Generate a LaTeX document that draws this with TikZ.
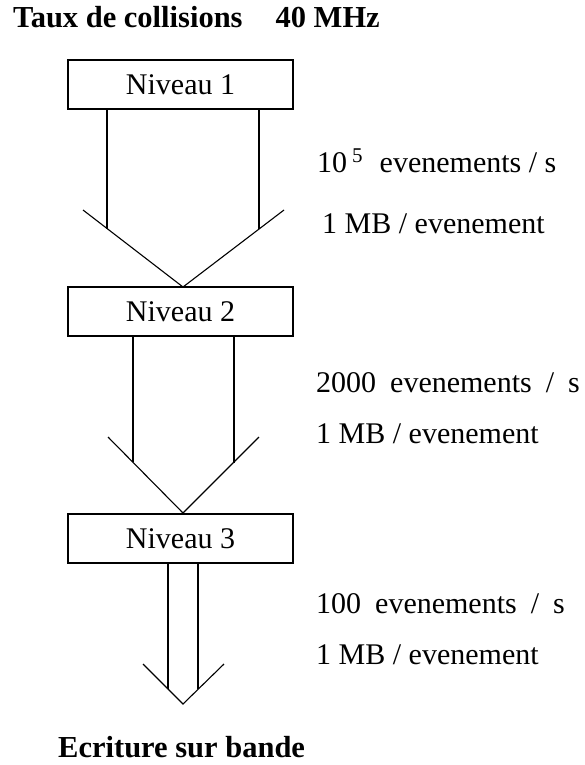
\documentclass[tikz,border=0pt]{standalone}
\usepackage{fontspec}
\setmainfont{Liberation Serif}
\begin{document}
\begin{tikzpicture}[x=1pt,y=-1pt,
  every node/.style={font=\fontsize{30}{36}\selectfont},
  levelbox/.style={draw,line width=2pt,minimum width=225pt,minimum height=49pt,inner sep=0pt,outer sep=0pt},
  txt/.style={anchor=base west,inner sep=0pt},
  boldtxt/.style={anchor=base west,inner sep=0pt,font=\fontsize{30.5}{36}\selectfont\bfseries},
  flow/.style={line width=1.1pt,line join=miter}]
\useasboundingbox (0,0) rectangle (584,765);

% title and bottom label
\node[boldtxt] (title) at (13,28) {Taux de collisions\hspace{33pt}40 MHz};
\node[boldtxt] (tape) at (58,757) {Ecriture sur bande};

% level boxes
\node[levelbox] (n1) at (180.5,84.5) {Niveau 1\hspace{6pt}};
\node[levelbox] (n2) at (180.5,311.5) {Niveau 2\hspace{4pt}};
\node[levelbox] (n3) at (180.5,538.5) {Niveau 3\hspace{6pt}};

% arrow 1 (n1 -> n2)
\coordinate (a1l) at (107,228.5);
\coordinate (a1r) at (259,229);
\coordinate (a1tl) at (83,210);
\coordinate (a1tr) at (284,210);
\coordinate (a1p) at (183,287);
\draw[flow] (n1.south -| a1l) -- (a1l);
\draw[flow] (n1.south -| a1r) -- (a1r);
\draw[flow] (a1tl) -- (a1p) -- (a1tr);

% arrow 2 (n2 -> n3)
\coordinate (a2l) at (133,462);
\coordinate (a2r) at (234,463);
\coordinate (a2tl) at (108,437);
\coordinate (a2tr) at (259,437);
\coordinate (a2p) at (183,513);
\draw[flow] (n2.south -| a2l) -- (a2l);
\draw[flow] (n2.south -| a2r) -- (a2r);
\draw[flow] (a2tl) -- (a2p) -- (a2tr);

% arrow 3 (n3 -> tape)
\coordinate (a3l) at (168,689);
\coordinate (a3r) at (198,689);
\coordinate (a3tl) at (143,664);
\coordinate (a3tr) at (224,664);
\coordinate (a3p) at (183,704);
\draw[flow] (n3.south -| a3l) -- (a3l);
\draw[flow] (n3.south -| a3r) -- (a3r);
\draw[flow] (a3tl) -- (a3p) -- (a3tr);

% rates
\node[txt] (r1a) at (317,172) {10\hspace{5pt}\raisebox{10pt}{\fontsize{21}{24}\selectfont 5}\hspace{17pt}evenements / s};
\node[txt] (r1b) at (322,233) {1 MB / evenement};
\node[txt] (r2a) at (316,392) {2000\hspace{14pt}evenements\hspace{14pt}/\hspace{14pt}s};
\node[txt] (r2b) at (316,443) {1 MB / evenement};
\node[txt] (r3a) at (316,613) {100\hspace{14pt}evenements\hspace{14pt}/\hspace{14pt}s};
\node[txt] (r3b) at (316,664) {1 MB / evenement};
\end{tikzpicture}
\end{document}
